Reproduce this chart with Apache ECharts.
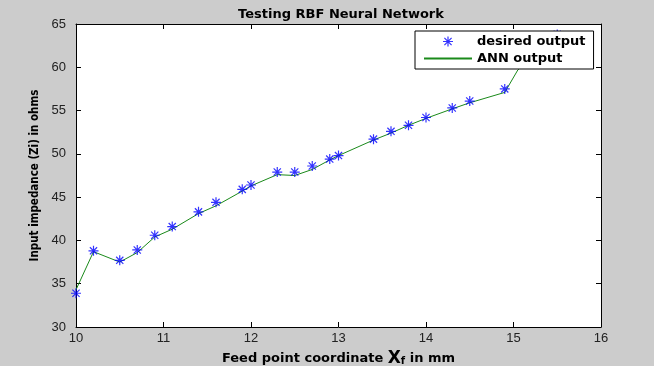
<!DOCTYPE html>
<html><head><meta charset="utf-8">
<script src="https://cdn.jsdelivr.net/npm/echarts@6/dist/echarts.min.js"></script>
<style>html,body{margin:0;padding:0;background:#cccccc}#c{width:654px;height:366px}</style>
</head><body><div id="c"></div>
<script>
// Desired output (blue asterisks)
const desiredX = [10, 10.2, 10.5, 10.7, 10.9, 11.1, 11.4, 11.6, 11.9, 12.0, 12.3, 12.5, 12.7, 12.9, 13.0, 13.4, 13.6, 13.8, 14.0, 14.3, 14.5, 14.9, 15.5];
const desiredY = [33.9, 38.8, 37.7, 38.9, 40.6, 41.6, 43.3, 44.4, 45.9, 46.4, 47.9, 47.9, 48.6, 49.4, 49.8, 51.7, 52.6, 53.3, 54.2, 55.3, 56.1, 57.5, 63.8];
// ANN output (green line)
const annX = [10, 10.2, 10.5, 10.7, 10.9, 11.1, 11.4, 11.6, 11.9, 12.0, 12.3, 12.5, 12.7, 12.9, 13.0, 13.4, 13.6, 13.8, 14.0, 14.3, 14.5, 14.9, 15.05, 15.5];
const annY = [34.3, 38.7, 37.5, 38.6, 40.4, 41.3, 43.1, 44.0, 45.7, 46.3, 47.6, 47.5, 48.2, 49.3, 49.8, 51.6, 52.4, 53.3, 54.1, 55.2, 55.9, 57.1, 59.7, 63.8];
const xTicks = [10, 11, 12, 13, 14, 15, 16];
const yTicks = [30, 35, 40, 45, 50, 55, 60, 65];

const chart = echarts.init(document.getElementById('c'), null, {renderer: 'canvas'});
const asterisk = 'path://M0,-1L0,1M-1,0L1,0M-0.72,-0.72L0.72,0.72M-0.72,0.72L0.72,-0.72';
const boldFont = 'DejaVu Sans, Verdana, sans-serif';
const narrowFont = 'Liberation Sans Narrow, DejaVu Sans Condensed, Arial Narrow, sans-serif';
const tickFont = 'Liberation Sans, Arial, sans-serif';
const axisCommon = {
  axisLine: {show: true, lineStyle: {color: '#000', width: 1}},
  axisTick: {show: true, inside: true, length: 5, lineStyle: {color: '#000'}},
  splitLine: {show: false}
};
chart.setOption({
  backgroundColor: '#cccccc',
  animation: false,
  title: {
    text: 'Testing RBF Neural Network', left: 336, top: 3, textAlign: 'center',
    textStyle: {fontFamily: boldFont, fontWeight: 'bold', fontSize: 13, color: '#000'}
  },
  grid: {left: 76, right: 53, top: 24, bottom: 39, outerBoundsMode: 'none', containLabel: false,
    show: true, backgroundColor: '#fff', borderWidth: 0},
  legend: {
    orient: 'vertical', left: 415, top: 31,
    backgroundColor: '#fff', borderColor: '#000', borderWidth: 1, borderRadius: 0,
    padding: [3, 8, 3, 8], itemGap: 2, itemWidth: 48, itemHeight: 10,
    textStyle: {fontFamily: boldFont, fontWeight: 'bold', fontSize: 13, color: '#000', lineHeight: 15},
    data: [
      {name: 'desired output', icon: asterisk, itemStyle: {color: 'none', borderColor: '#0000ff', borderWidth: 1.2}},
      {name: 'ANN output', itemStyle: {opacity: 0}}
    ]
  },
  xAxis: [
    Object.assign({}, axisCommon, {
      type: 'value', min: 10, max: 16, interval: 1, position: 'bottom',
      axisLabel: {color: '#222', fontFamily: tickFont, fontSize: 13, margin: 5,
        formatter: v => xTicks.includes(v) ? String(v) : ''},
      name: '{a|Feed point coordinate }{x|X}{s|f}{a| in mm}', nameLocation: 'middle', nameGap: 20,
      nameTextStyle: {rich: {
        a: {fontFamily: boldFont, fontWeight: 'bold', fontSize: 13, color: '#000'},
        x: {fontFamily: boldFont, fontWeight: 'bold', fontSize: 17, color: '#000'},
        s: {fontFamily: boldFont, fontWeight: 'bold', fontSize: 10, color: '#000', verticalAlign: 'bottom', padding: [7, 0, 0, 0]}
      }}
    }),
    Object.assign({}, axisCommon, {
      type: 'value', min: 10, max: 16, interval: 1, position: 'top', axisLabel: {show: false}
    })
  ],
  yAxis: [
    Object.assign({}, axisCommon, {
      type: 'value', min: 30, max: 65, interval: 5, position: 'left',
      axisLabel: {color: '#222', fontFamily: tickFont, fontSize: 13, margin: 10,
        formatter: v => yTicks.includes(v) ? String(v) : ''},
      name: 'Input impedance (Zi) in ohms', nameLocation: 'middle', nameGap: 33, nameRotate: 90,
      nameTextStyle: {fontFamily: narrowFont, fontWeight: 'bold', fontSize: 11.5, color: '#000'}
    }),
    Object.assign({}, axisCommon, {
      type: 'value', min: 30, max: 65, interval: 5, position: 'right', axisLabel: {show: false}
    })
  ],
  series: [
    {
      name: 'desired output', type: 'scatter', xAxisIndex: 0, yAxisIndex: 0,
      symbol: asterisk, symbolSize: 10,
      itemStyle: {color: 'none', borderColor: '#0000ff', borderWidth: 1.2},
      data: desiredX.map((x, i) => [x, desiredY[i]]), z: 3
    },
    {
      name: 'ANN output', type: 'line', xAxisIndex: 0, yAxisIndex: 0,
      symbol: 'none', showSymbol: false, smooth: false,
      lineStyle: {color: '#1a8a1a', width: 1}, itemStyle: {color: '#1a8a1a'},
      data: annX.map((x, i) => [x, annY[i]]), z: 2
    }
  ]
});
</script></body></html>
